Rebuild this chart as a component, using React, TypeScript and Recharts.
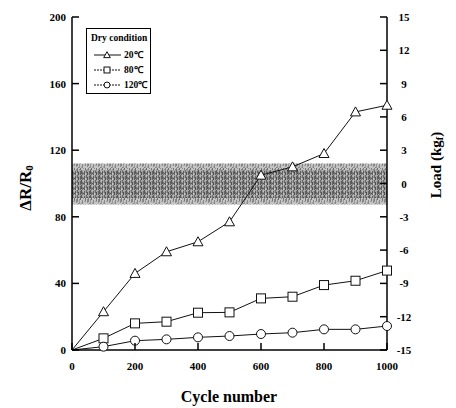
import { LineChart, Line, XAxis, YAxis, ReferenceArea, Legend } from "recharts";

// cycle counts and ΔR/R0 readings for the three test temperatures (dry)
const cycles = [0, 100, 200, 300, 400, 500, 600, 700, 800, 900, 1000];
const dry20 = [0, 23, 46, 59, 65, 77, 105, 110, 118, 143, 147];
const dry80 = [0, 7, 16, 17, 22.4, 22.6, 31, 32, 39, 41.6, 47.7];
const dry120 = [0, 2, 5.6, 6.4, 7.6, 8.4, 9.6, 10.4, 12.4, 12.4, 14.4];

// cyclic load envelope (kgf): outer swing and the denser core
const loadOuter = [-1.9, 1.8];
const loadCore = [-1.3, 1.2];

const xTicks = [0, 200, 400, 600, 800, 1000];
const leftTicks = [0, 40, 80, 120, 160, 200];
const rightTicks = [-15, -12, -9, -6, -3, 0, 3, 6, 9, 12, 15];

const seriesOrder = ["t20", "t80", "t120"];

const data = cycles.map((c, i) => ({
  cycle: c,
  t20: dry20[i],
  t80: dry80[i],
  t120: dry120[i],
}));

const FONT = "Liberation Serif, Times New Roman, serif";

type Marker = (cx: number, cy: number, s: number, k?: string) => JSX.Element;

const Triangle: Marker = (cx, cy, s, k) => (
  <polygon
    key={k}
    points={`${cx},${cy - s} ${cx - s},${cy + s * 0.8} ${cx + s},${cy + s * 0.8}`}
    fill="#fff"
    stroke="#111"
    strokeWidth={1}
  />
);
const Square: Marker = (cx, cy, s, k) => (
  <rect key={k} x={cx - s * 0.9} y={cy - s * 0.9} width={s * 1.8} height={s * 1.8} fill="#fff" stroke="#111" strokeWidth={1} />
);
const Circle: Marker = (cx, cy, s, k) => (
  <circle key={k} cx={cx} cy={cy} r={s * 0.9} fill="#fff" stroke="#111" strokeWidth={1} />
);

const markers: Record<string, Marker> = {
  t20: Triangle,
  t80: Square,
  t120: Circle,
};

const makeDot = (key: string) => (props: any) => {
  const { cx, cy, payload, index } = props;
  if (payload.cycle === 0) return <g key={`${key}-${index}`} />;
  return markers[key](cx, cy, 5, `${key}-${index}`);
};

const textStyle = { fontFamily: FONT, fontWeight: 700 };

const LeftTick = ({ x, y, payload }: any) => (
  <g>
    <line x1={x} x2={x + 7} y1={y} y2={y} stroke="#000" strokeWidth={1.5} />
    <text x={x - 6} y={y} textAnchor="end" dominantBaseline="central" style={textStyle} fontSize={11} fill="#000">
      {payload.value}
    </text>
  </g>
);

const RightTick = ({ x, y, payload }: any) => (
  <g>
    <line x1={x - 7} x2={x} y1={y} y2={y} stroke="#000" strokeWidth={1.5} />
    <text x={x + 17} y={y} textAnchor="middle" dominantBaseline="central" style={textStyle} fontSize={11} fill="#000">
      {payload.value}
    </text>
  </g>
);

const BottomTick = ({ x, y, payload }: any) => (
  <g>
    <line x1={x} x2={x} y1={y - 7} y2={y} stroke="#000" strokeWidth={1.5} />
    <text x={x} y={y + 16} textAnchor="middle" dominantBaseline="central" style={textStyle} fontSize={11} fill="#000">
      {payload.value}
    </text>
  </g>
);

const LegendBox = ({ payload }: any) => {
  const items = [...(payload || [])].sort(
    (a: any, b: any) => seriesOrder.indexOf(a.dataKey) - seriesOrder.indexOf(b.dataKey)
  );
  return (
    <svg width={65} height={66} style={{ display: "block" }}>
      <rect x={0.5} y={0.5} width={64} height={65} fill="#fff" stroke="#000" strokeWidth={1} />
      <text x={5} y={10} dominantBaseline="central" style={textStyle} fontSize={9.5}>
        Dry condition
      </text>
      {items.map((entry: any, i: number) => {
        const cy = 27 + i * 15;
        return (
          <g key={entry.dataKey}>
            <line
              x1={8}
              x2={35}
              y1={cy}
              y2={cy}
              stroke="#111"
              strokeWidth={1}
              strokeDasharray={entry.dataKey === "t20" ? undefined : "2 1"}
            />
            {markers[entry.dataKey](21, cy, 3.3)}
            <text x={38} y={cy} dominantBaseline="central" style={textStyle} fontSize={9.5}>
              {entry.value}
            </text>
          </g>
        );
      })}
    </svg>
  );
};

export default function App() {
  return (
    <div style={{ position: "absolute", left: 0, top: 0, background: "#fff" }}>
      <LineChart width={456} height={408} data={data} margin={{ top: 17, right: 0, bottom: 0, left: 0 }}>
        <defs>
          <pattern id="loadNoise" width="11" height="6" patternUnits="userSpaceOnUse">
            <rect width="11" height="6" fill="#c4c4c4" />
            <rect x="0" y="0" width="1" height="4" fill="#808080" />
            <rect x="2" y="1" width="1" height="5" fill="#969696" />
            <rect x="3" y="0" width="1" height="2" fill="#6e6e6e" />
            <rect x="5" y="2" width="1" height="4" fill="#888" />
            <rect x="6" y="0" width="1" height="1" fill="#909090" />
            <rect x="7" y="3" width="2" height="1" fill="#a0a0a0" />
            <rect x="8" y="0" width="1" height="3" fill="#787878" />
            <rect x="10" y="1" width="1" height="4" fill="#8c8c8c" />
            <rect x="1" y="5" width="1" height="1" fill="#808080" />
            <rect x="4" y="4" width="1" height="2" fill="#a6a6a6" />
          </pattern>
          <pattern id="loadNoiseDense" width="9" height="5" patternUnits="userSpaceOnUse">
            <rect width="9" height="5" fill="#a0a0a0" />
            <rect x="0" y="0" width="1" height="4" fill="#585858" />
            <rect x="1" y="2" width="1" height="3" fill="#747474" />
            <rect x="2" y="0" width="1" height="2" fill="#bcbcbc" />
            <rect x="3" y="1" width="1" height="4" fill="#606060" />
            <rect x="4" y="3" width="1" height="2" fill="#c8c8c8" />
            <rect x="5" y="0" width="1" height="3" fill="#6a6a6a" />
            <rect x="6" y="2" width="1" height="3" fill="#505050" />
            <rect x="7" y="0" width="1" height="1" fill="#b4b4b4" />
            <rect x="8" y="1" width="1" height="4" fill="#646464" />
            <rect x="2" y="3" width="1" height="1" fill="#5a5a5a" />
          </pattern>
        </defs>
        <XAxis
          dataKey="cycle"
          type="number"
          domain={[0, 1000]}
          ticks={xTicks}
          interval={0}
          height={58}
          tickSize={0}
          tickMargin={0}
          tick={BottomTick}
          tickLine={false}
          axisLine={{ stroke: "#000", strokeWidth: 1.5 }}
          label={{
            content: () => (
              <text x={229} y={396} textAnchor="middle" dominantBaseline="central" style={textStyle} fontSize={16}>
                Cycle number
              </text>
            ),
          }}
        />
        <XAxis
          xAxisId="top"
          orientation="top"
          type="number"
          domain={[0, 1000]}
          height={0}
          tick={false}
          tickLine={false}
          axisLine={{ stroke: "#000", strokeWidth: 1.5 }}
        />
        <YAxis
          yAxisId="left"
          type="number"
          domain={[0, 200]}
          ticks={leftTicks}
          interval={0}
          width={72}
          tickSize={0}
          tickMargin={0}
          tick={LeftTick}
          tickLine={false}
          axisLine={{ stroke: "#000", strokeWidth: 1.5 }}
          label={{
            content: () => (
              <text
                x={25}
                y={188}
                transform="rotate(-90 25 188)"
                textAnchor="middle"
                dominantBaseline="central"
                style={textStyle}
                fontSize={17}
              >
                ΔR/R
                <tspan fontSize={11} dy={4}>0</tspan>
              </text>
            ),
          }}
        />
        <YAxis
          yAxisId="load"
          orientation="right"
          type="number"
          domain={[-15, 15]}
          ticks={rightTicks}
          interval={0}
          width={69}
          tickSize={0}
          tickMargin={0}
          tick={RightTick}
          tickLine={false}
          allowDataOverflow
          axisLine={{ stroke: "#000", strokeWidth: 1.5 }}
          label={{
            content: () => (
              <text
                x={436}
                y={165}
                transform="rotate(-90 436 165)"
                textAnchor="middle"
                dominantBaseline="central"
                style={textStyle}
                fontSize={15}
              >
                Load (kg
                <tspan fontSize={10} dy={3}>f</tspan>
                <tspan dy={-3}>)</tspan>
              </text>
            ),
          }}
        />
        <ReferenceArea
          yAxisId="load"
          x1={0}
          x2={1000}
          y1={loadOuter[0]}
          y2={loadOuter[1]}
          fill="url(#loadNoise)"
          fillOpacity={1}
          stroke="none"
        />
        <ReferenceArea
          yAxisId="load"
          x1={0}
          x2={1000}
          y1={loadCore[0]}
          y2={loadCore[1]}
          fill="url(#loadNoiseDense)"
          fillOpacity={1}
          stroke="none"
        />
        <Legend
          layout="horizontal"
          verticalAlign="middle"
          align="center"
          content={LegendBox}
          wrapperStyle={{ left: 86, top: 28, width: 65, height: 66 }}
        />
        <Line
          yAxisId="left"
          dataKey="t20"
          name="20℃"
          stroke="#111"
          strokeWidth={1}
          dot={makeDot("t20")}
          activeDot={false}
          isAnimationActive={false}
        />
        <Line
          yAxisId="left"
          dataKey="t80"
          name="80℃"
          stroke="#111"
          strokeWidth={1}
          dot={makeDot("t80")}
          activeDot={false}
          isAnimationActive={false}
        />
        <Line
          yAxisId="left"
          dataKey="t120"
          name="120℃"
          stroke="#111"
          strokeWidth={1}
          dot={makeDot("t120")}
          activeDot={false}
          isAnimationActive={false}
        />
      </LineChart>
    </div>
  );
}
